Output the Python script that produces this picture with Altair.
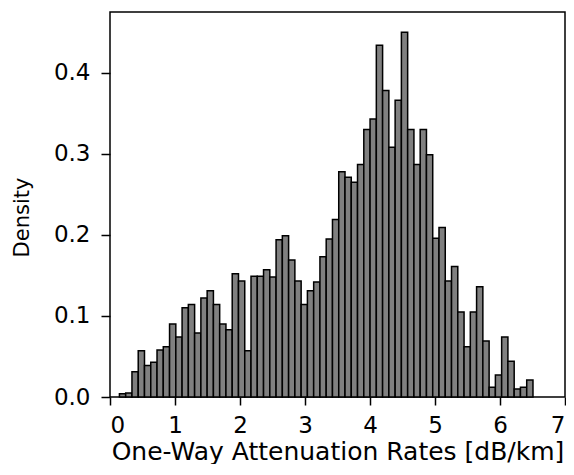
import altair as alt
import pandas as pd

# Histogram (density) of one-way attenuation rates
bin_first_edge = 0.145
bin_width = 0.0964
densities = [
    0.004, 0.005, 0.031, 0.057, 0.039, 0.043, 0.058, 0.062, 0.090, 0.074, 0.110, 0.114,
    0.079, 0.122, 0.131, 0.114, 0.090, 0.083, 0.152, 0.143, 0.057, 0.149, 0.149, 0.157, 0.148,
    0.194, 0.199, 0.169, 0.143, 0.114, 0.131, 0.142, 0.173, 0.195, 0.219, 0.278, 0.271,
    0.265, 0.287, 0.330, 0.343, 0.434, 0.378, 0.308, 0.366, 0.450, 0.330, 0.287, 0.330, 0.299,
    0.196, 0.209, 0.143, 0.161, 0.105, 0.062, 0.105, 0.136, 0.069, 0.012, 0.027, 0.074,
    0.044, 0.010, 0.012, 0.021,
]
x_ticks = [0, 1, 2, 3, 4, 5, 6, 7]
y_ticks = [0.0, 0.1, 0.2, 0.3, 0.4]

df = pd.DataFrame({
    "left": [bin_first_edge + i * bin_width for i in range(len(densities))],
    "density": densities,
})
df["right"] = df["left"] + bin_width

FONT = "DejaVu Sans"

chart = alt.Chart(df).mark_bar(
    color="#808080", stroke="black", strokeWidth=1.5
).encode(
    x=alt.X("left:Q", scale=alt.Scale(domain=[0, 7], nice=False, zero=False),
            axis=alt.Axis(title="One-Way Attenuation Rates [dB/km]", values=x_ticks,
                          format="d", grid=False, domain=False, tickSize=8,
                          tickWidth=1.5, tickColor="black", labelPadding=9,
                          labelFontSize=23, titleFontSize=25, labelFont=FONT,
                          titleFont=FONT, labelColor="black", titleColor="black",
                          titleFontWeight="normal", titleY=62,
                          titleBaseline="alphabetic")),
    x2="right:Q",
    y=alt.Y("density:Q", scale=alt.Scale(domain=[0, 0.475], nice=False),
            axis=alt.Axis(title="Density", values=y_ticks, format=".1f",
                          grid=False, domain=False, tickSize=9, tickWidth=1.5,
                          tickColor="black", labelPadding=11, labelFontSize=23,
                          titleFontSize=21, labelFont=FONT, titleFont=FONT,
                          labelColor="black", titleColor="black",
                          titleFontWeight="normal", titleX=-82, titleY=205,
                          titleBaseline="alphabetic", titleAlign="center")),
    y2=alt.datum(0),
).properties(
    width=455, height=385,
    autosize=alt.AutoSizeParams(type="none"),
    padding={"left": 102, "top": 4, "right": 1, "bottom": 67},
).configure_view(
    stroke="black", strokeWidth=1.5
)

chart.save("out.html", embed_options={"renderer": "svg", "actions": False})
